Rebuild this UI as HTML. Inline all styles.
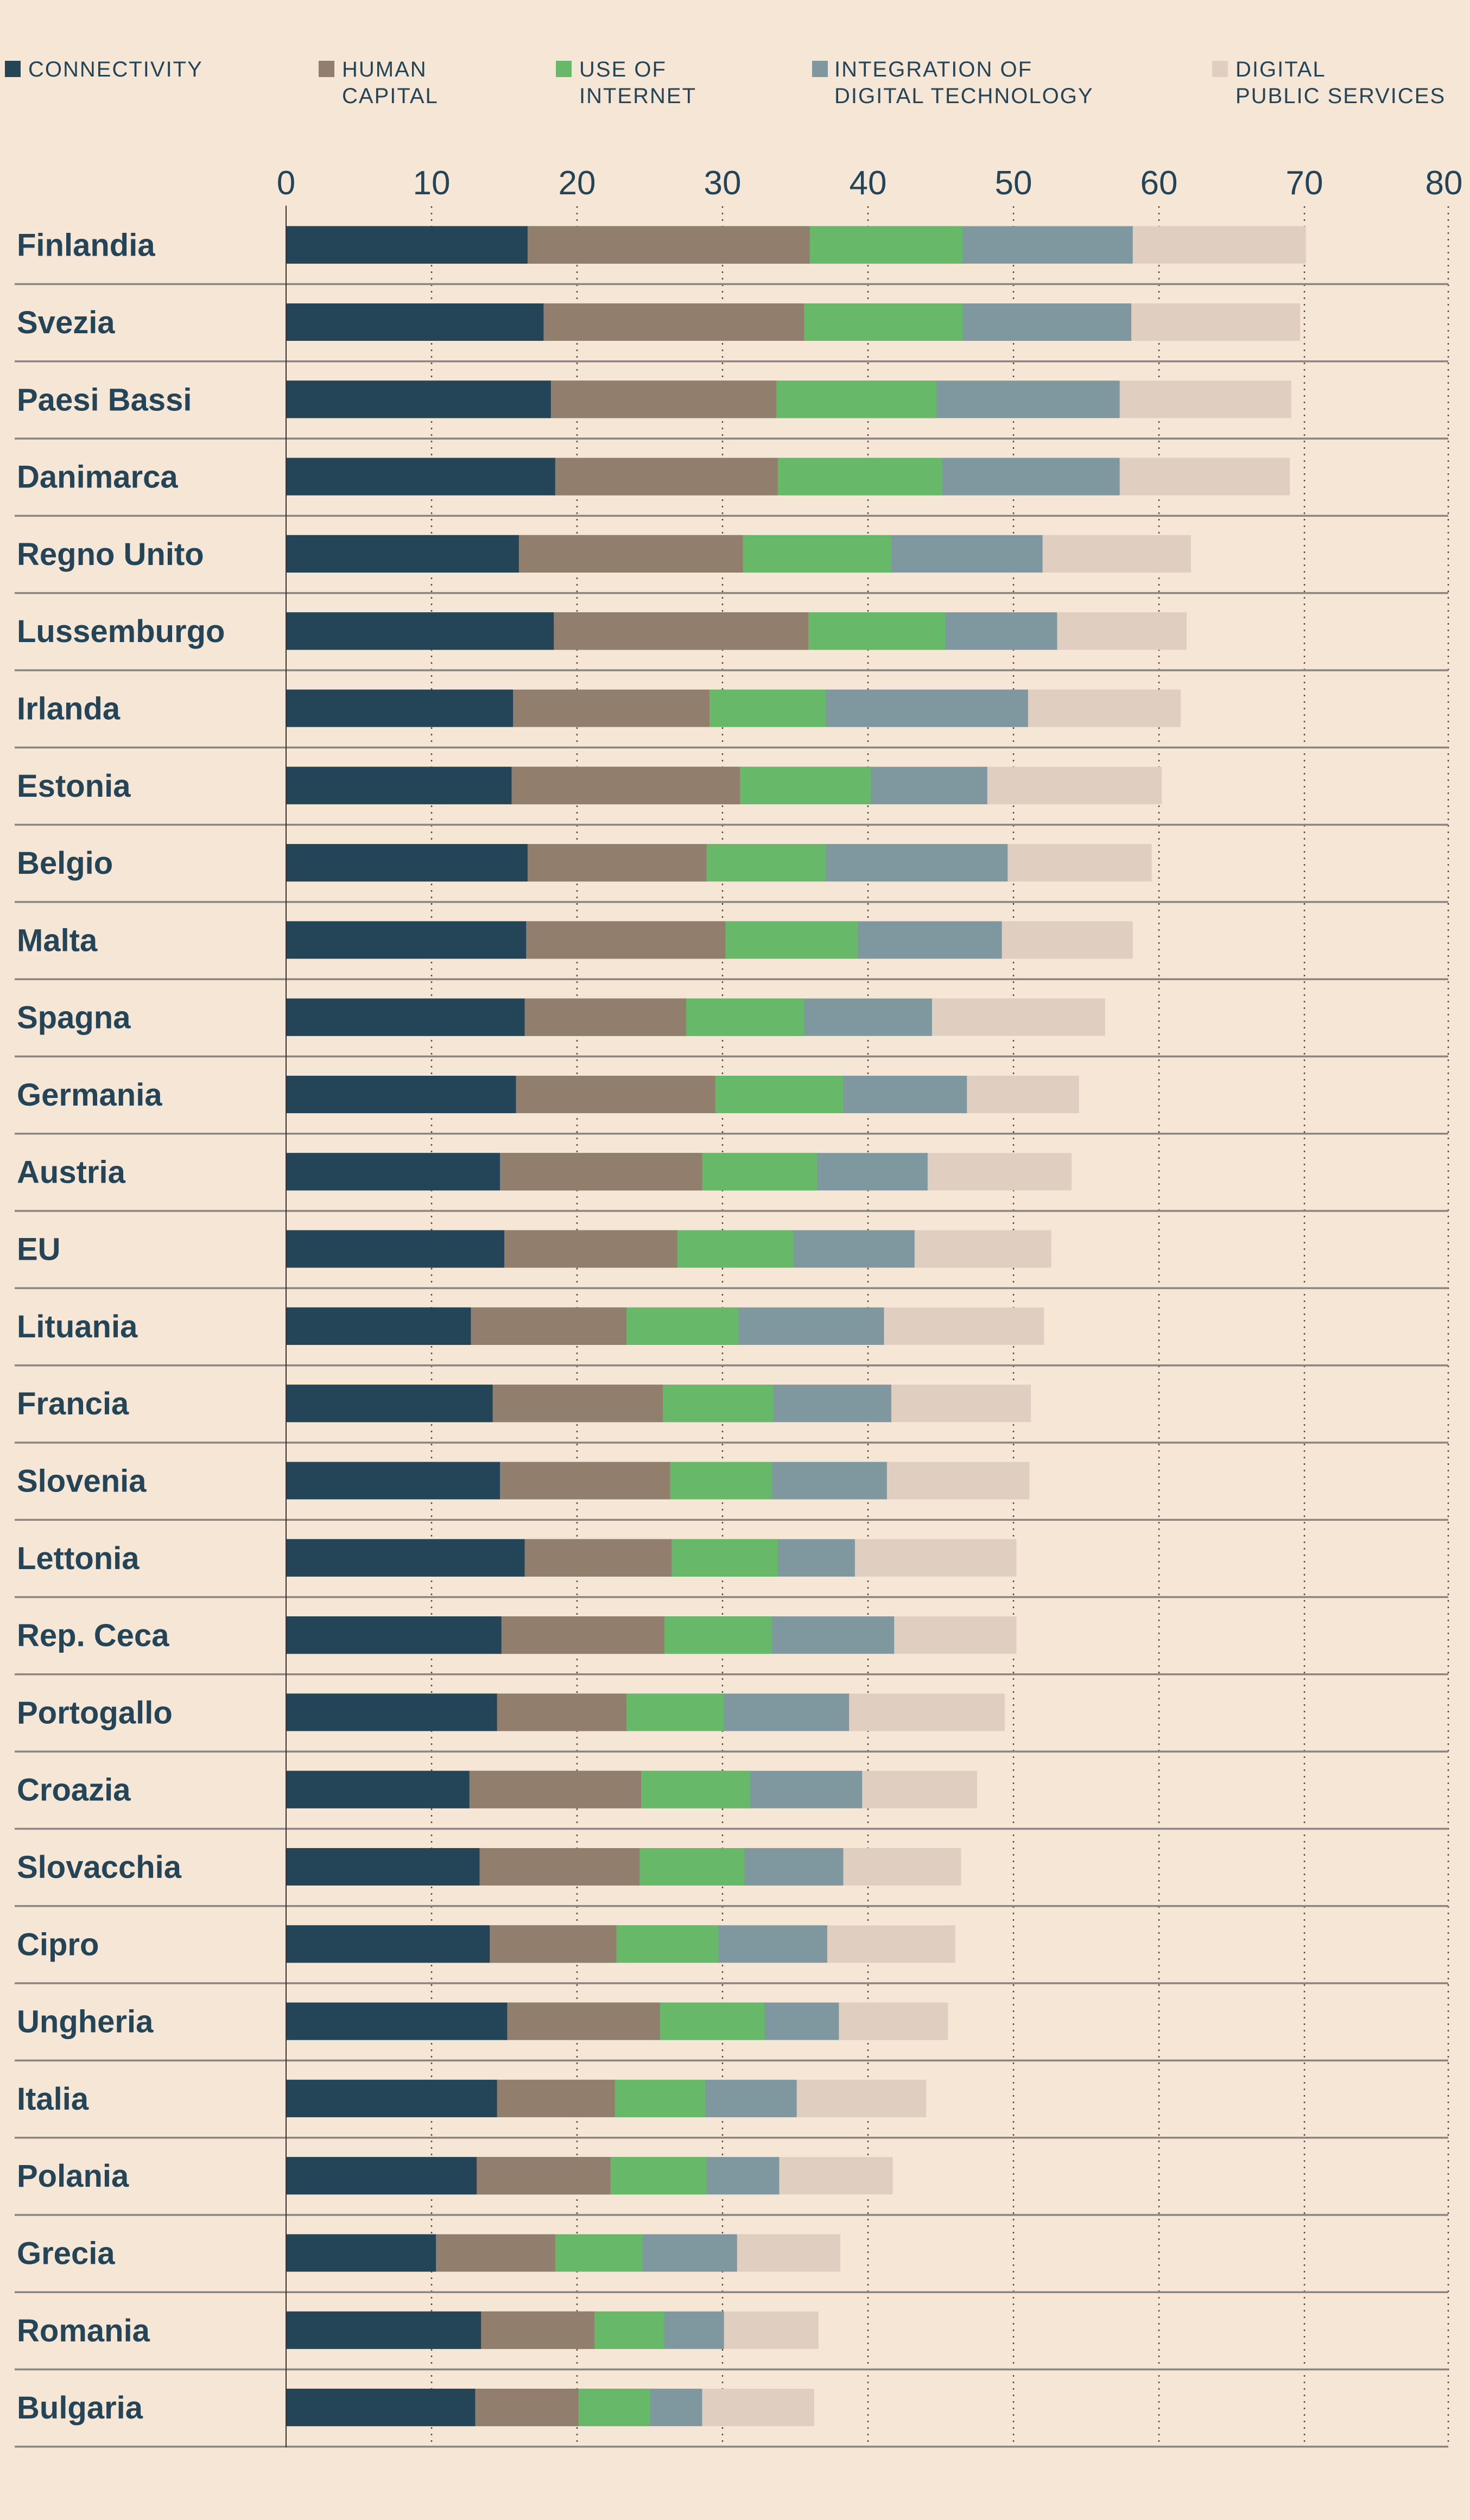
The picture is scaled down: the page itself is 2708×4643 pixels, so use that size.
<!DOCTYPE html>
<html><head><meta charset="utf-8">
<style>
html,body{margin:0;padding:0;background:#f5e6d6;}
svg{display:block;}
text{font-family:"Liberation Sans",sans-serif;fill:#244457;}
</style></head>
<body>
<svg width="2708" height="4643" viewBox="0 0 2708 4643" xmlns="http://www.w3.org/2000/svg">
<rect width="2708" height="4643" fill="#f5e6d6"/>
<!-- legend -->
<g font-size="40" letter-spacing="2">
<rect x="9" y="112" width="29" height="30" fill="#244457"/>
<text x="52" y="141">CONNECTIVITY</text>
<rect x="587" y="112" width="29" height="30" fill="#917e6d"/>
<text x="630" y="141">HUMAN</text><text x="630" y="190">CAPITAL</text>
<rect x="1024" y="112" width="29" height="30" fill="#67b868"/>
<text x="1067" y="141">USE OF</text><text x="1067" y="190">INTERNET</text>
<rect x="1496" y="112" width="29" height="30" fill="#7f979e"/>
<text x="1537" y="141">INTEGRATION OF</text><text x="1537" y="190">DIGITAL TECHNOLOGY</text>
<rect x="2233" y="112" width="29" height="30" fill="#e0cfc0"/>
<text x="2276" y="141">DIGITAL</text><text x="2276" y="190">PUBLIC SERVICES</text>
</g>
<!-- tick labels -->
<g font-size="62" text-anchor="middle">
<text x="527" y="358">0</text><text x="795" y="358">10</text><text x="1063" y="358">20</text>
<text x="1331" y="358">30</text><text x="1599" y="358">40</text><text x="1867" y="358">50</text>
<text x="2135" y="358">60</text><text x="2403" y="358">70</text><text x="2660" y="358">80</text>
</g>
<!-- gridlines -->
<g stroke="#5a4a44" stroke-width="2.5" stroke-dasharray="3,9">
<line x1="795" y1="380" x2="795" y2="4508"/><line x1="1063" y1="380" x2="1063" y2="4508"/>
<line x1="1331" y1="380" x2="1331" y2="4508"/><line x1="1599" y1="380" x2="1599" y2="4508"/>
<line x1="1867" y1="380" x2="1867" y2="4508"/><line x1="2135" y1="380" x2="2135" y2="4508"/>
<line x1="2403" y1="380" x2="2403" y2="4508"/><line x1="2668" y1="380" x2="2668" y2="4508"/>
</g>
<defs>
<g id="sep"><rect x="27" y="141" width="2641" height="3.5" fill="#8a8580"/></g>
</defs>
<g font-size="58" font-weight="bold">
<!-- rows -->
<g transform="translate(0,380.7)"><text x="31" y="91">Finlandia</text><use href="#sep"/><g transform="translate(527,36) scale(26.8,1)"><rect width="70.1" height="69" fill="#e0cfc0"/><rect width="58.2" height="69" fill="#7f979e"/><rect width="46.5" height="69" fill="#67b868"/><rect width="36.0" height="69" fill="#917e6d"/><rect width="16.6" height="69" fill="#244457"/></g></g>
<g transform="translate(0,523.0)"><text x="31" y="91">Svezia</text><use href="#sep"/><g transform="translate(527,36) scale(26.8,1)"><rect width="69.7" height="69" fill="#e0cfc0"/><rect width="58.1" height="69" fill="#7f979e"/><rect width="46.5" height="69" fill="#67b868"/><rect width="35.6" height="69" fill="#917e6d"/><rect width="17.7" height="69" fill="#244457"/></g></g>
<g transform="translate(0,665.3)"><text x="31" y="91">Paesi Bassi</text><use href="#sep"/><g transform="translate(527,36) scale(26.8,1)"><rect width="69.1" height="69" fill="#e0cfc0"/><rect width="57.3" height="69" fill="#7f979e"/><rect width="44.7" height="69" fill="#67b868"/><rect width="33.7" height="69" fill="#917e6d"/><rect width="18.2" height="69" fill="#244457"/></g></g>
<g transform="translate(0,807.6)"><text x="31" y="91">Danimarca</text><use href="#sep"/><g transform="translate(527,36) scale(26.8,1)"><rect width="69.0" height="69" fill="#e0cfc0"/><rect width="57.3" height="69" fill="#7f979e"/><rect width="45.1" height="69" fill="#67b868"/><rect width="33.8" height="69" fill="#917e6d"/><rect width="18.5" height="69" fill="#244457"/></g></g>
<g transform="translate(0,949.9)"><text x="31" y="91">Regno Unito</text><use href="#sep"/><g transform="translate(527,36) scale(26.8,1)"><rect width="62.2" height="69" fill="#e0cfc0"/><rect width="52.0" height="69" fill="#7f979e"/><rect width="41.6" height="69" fill="#67b868"/><rect width="31.4" height="69" fill="#917e6d"/><rect width="16.0" height="69" fill="#244457"/></g></g>
<g transform="translate(0,1092.2)"><text x="31" y="91">Lussemburgo</text><use href="#sep"/><g transform="translate(527,36) scale(26.8,1)"><rect width="61.9" height="69" fill="#e0cfc0"/><rect width="53.0" height="69" fill="#7f979e"/><rect width="45.3" height="69" fill="#67b868"/><rect width="35.9" height="69" fill="#917e6d"/><rect width="18.4" height="69" fill="#244457"/></g></g>
<g transform="translate(0,1234.5)"><text x="31" y="91">Irlanda</text><use href="#sep"/><g transform="translate(527,36) scale(26.8,1)"><rect width="61.5" height="69" fill="#e0cfc0"/><rect width="51.0" height="69" fill="#7f979e"/><rect width="37.1" height="69" fill="#67b868"/><rect width="29.1" height="69" fill="#917e6d"/><rect width="15.6" height="69" fill="#244457"/></g></g>
<g transform="translate(0,1376.8)"><text x="31" y="91">Estonia</text><use href="#sep"/><g transform="translate(527,36) scale(26.8,1)"><rect width="60.2" height="69" fill="#e0cfc0"/><rect width="48.2" height="69" fill="#7f979e"/><rect width="40.2" height="69" fill="#67b868"/><rect width="31.2" height="69" fill="#917e6d"/><rect width="15.5" height="69" fill="#244457"/></g></g>
<g transform="translate(0,1519.1)"><text x="31" y="91">Belgio</text><use href="#sep"/><g transform="translate(527,36) scale(26.8,1)"><rect width="59.5" height="69" fill="#e0cfc0"/><rect width="49.6" height="69" fill="#7f979e"/><rect width="37.1" height="69" fill="#67b868"/><rect width="28.9" height="69" fill="#917e6d"/><rect width="16.6" height="69" fill="#244457"/></g></g>
<g transform="translate(0,1661.4)"><text x="31" y="91">Malta</text><use href="#sep"/><g transform="translate(527,36) scale(26.8,1)"><rect width="58.2" height="69" fill="#e0cfc0"/><rect width="49.2" height="69" fill="#7f979e"/><rect width="39.3" height="69" fill="#67b868"/><rect width="30.2" height="69" fill="#917e6d"/><rect width="16.5" height="69" fill="#244457"/></g></g>
<g transform="translate(0,1803.7)"><text x="31" y="91">Spagna</text><use href="#sep"/><g transform="translate(527,36) scale(26.8,1)"><rect width="56.3" height="69" fill="#e0cfc0"/><rect width="44.4" height="69" fill="#7f979e"/><rect width="35.6" height="69" fill="#67b868"/><rect width="27.5" height="69" fill="#917e6d"/><rect width="16.4" height="69" fill="#244457"/></g></g>
<g transform="translate(0,1946.0)"><text x="31" y="91">Germania</text><use href="#sep"/><g transform="translate(527,36) scale(26.8,1)"><rect width="54.5" height="69" fill="#e0cfc0"/><rect width="46.8" height="69" fill="#7f979e"/><rect width="38.3" height="69" fill="#67b868"/><rect width="29.5" height="69" fill="#917e6d"/><rect width="15.8" height="69" fill="#244457"/></g></g>
<g transform="translate(0,2088.3)"><text x="31" y="91">Austria</text><use href="#sep"/><g transform="translate(527,36) scale(26.8,1)"><rect width="54.0" height="69" fill="#e0cfc0"/><rect width="44.1" height="69" fill="#7f979e"/><rect width="36.5" height="69" fill="#67b868"/><rect width="28.6" height="69" fill="#917e6d"/><rect width="14.7" height="69" fill="#244457"/></g></g>
<g transform="translate(0,2230.6)"><text x="31" y="91">EU</text><use href="#sep"/><g transform="translate(527,36) scale(26.8,1)"><rect width="52.6" height="69" fill="#e0cfc0"/><rect width="43.2" height="69" fill="#7f979e"/><rect width="34.9" height="69" fill="#67b868"/><rect width="26.9" height="69" fill="#917e6d"/><rect width="15.0" height="69" fill="#244457"/></g></g>
<g transform="translate(0,2372.9)"><text x="31" y="91">Lituania</text><use href="#sep"/><g transform="translate(527,36) scale(26.8,1)"><rect width="52.1" height="69" fill="#e0cfc0"/><rect width="41.1" height="69" fill="#7f979e"/><rect width="31.1" height="69" fill="#67b868"/><rect width="23.4" height="69" fill="#917e6d"/><rect width="12.7" height="69" fill="#244457"/></g></g>
<g transform="translate(0,2515.2)"><text x="31" y="91">Francia</text><use href="#sep"/><g transform="translate(527,36) scale(26.8,1)"><rect width="51.2" height="69" fill="#e0cfc0"/><rect width="41.6" height="69" fill="#7f979e"/><rect width="33.5" height="69" fill="#67b868"/><rect width="25.9" height="69" fill="#917e6d"/><rect width="14.2" height="69" fill="#244457"/></g></g>
<g transform="translate(0,2657.5)"><text x="31" y="91">Slovenia</text><use href="#sep"/><g transform="translate(527,36) scale(26.8,1)"><rect width="51.1" height="69" fill="#e0cfc0"/><rect width="41.3" height="69" fill="#7f979e"/><rect width="33.4" height="69" fill="#67b868"/><rect width="26.4" height="69" fill="#917e6d"/><rect width="14.7" height="69" fill="#244457"/></g></g>
<g transform="translate(0,2799.8)"><text x="31" y="91">Lettonia</text><use href="#sep"/><g transform="translate(527,36) scale(26.8,1)"><rect width="50.2" height="69" fill="#e0cfc0"/><rect width="39.1" height="69" fill="#7f979e"/><rect width="33.8" height="69" fill="#67b868"/><rect width="26.5" height="69" fill="#917e6d"/><rect width="16.4" height="69" fill="#244457"/></g></g>
<g transform="translate(0,2942.1)"><text x="31" y="91">Rep. Ceca</text><use href="#sep"/><g transform="translate(527,36) scale(26.8,1)"><rect width="50.2" height="69" fill="#e0cfc0"/><rect width="41.8" height="69" fill="#7f979e"/><rect width="33.4" height="69" fill="#67b868"/><rect width="26.0" height="69" fill="#917e6d"/><rect width="14.8" height="69" fill="#244457"/></g></g>
<g transform="translate(0,3084.4)"><text x="31" y="91">Portogallo</text><use href="#sep"/><g transform="translate(527,36) scale(26.8,1)"><rect width="49.4" height="69" fill="#e0cfc0"/><rect width="38.7" height="69" fill="#7f979e"/><rect width="30.1" height="69" fill="#67b868"/><rect width="23.4" height="69" fill="#917e6d"/><rect width="14.5" height="69" fill="#244457"/></g></g>
<g transform="translate(0,3226.7)"><text x="31" y="91">Croazia</text><use href="#sep"/><g transform="translate(527,36) scale(26.8,1)"><rect width="47.5" height="69" fill="#e0cfc0"/><rect width="39.6" height="69" fill="#7f979e"/><rect width="31.9" height="69" fill="#67b868"/><rect width="24.4" height="69" fill="#917e6d"/><rect width="12.6" height="69" fill="#244457"/></g></g>
<g transform="translate(0,3369.0)"><text x="31" y="91">Slovacchia</text><use href="#sep"/><g transform="translate(527,36) scale(26.8,1)"><rect width="46.4" height="69" fill="#e0cfc0"/><rect width="38.3" height="69" fill="#7f979e"/><rect width="31.5" height="69" fill="#67b868"/><rect width="24.3" height="69" fill="#917e6d"/><rect width="13.3" height="69" fill="#244457"/></g></g>
<g transform="translate(0,3511.3)"><text x="31" y="91">Cipro</text><use href="#sep"/><g transform="translate(527,36) scale(26.8,1)"><rect width="46.0" height="69" fill="#e0cfc0"/><rect width="37.2" height="69" fill="#7f979e"/><rect width="29.7" height="69" fill="#67b868"/><rect width="22.7" height="69" fill="#917e6d"/><rect width="14.0" height="69" fill="#244457"/></g></g>
<g transform="translate(0,3653.6)"><text x="31" y="91">Ungheria</text><use href="#sep"/><g transform="translate(527,36) scale(26.8,1)"><rect width="45.5" height="69" fill="#e0cfc0"/><rect width="38.0" height="69" fill="#7f979e"/><rect width="32.9" height="69" fill="#67b868"/><rect width="25.7" height="69" fill="#917e6d"/><rect width="15.2" height="69" fill="#244457"/></g></g>
<g transform="translate(0,3795.9)"><text x="31" y="91">Italia</text><use href="#sep"/><g transform="translate(527,36) scale(26.8,1)"><rect width="44.0" height="69" fill="#e0cfc0"/><rect width="35.1" height="69" fill="#7f979e"/><rect width="28.8" height="69" fill="#67b868"/><rect width="22.6" height="69" fill="#917e6d"/><rect width="14.5" height="69" fill="#244457"/></g></g>
<g transform="translate(0,3938.2)"><text x="31" y="91">Polania</text><use href="#sep"/><g transform="translate(527,36) scale(26.8,1)"><rect width="41.7" height="69" fill="#e0cfc0"/><rect width="33.9" height="69" fill="#7f979e"/><rect width="28.9" height="69" fill="#67b868"/><rect width="22.3" height="69" fill="#917e6d"/><rect width="13.1" height="69" fill="#244457"/></g></g>
<g transform="translate(0,4080.5)"><text x="31" y="91">Grecia</text><use href="#sep"/><g transform="translate(527,36) scale(26.8,1)"><rect width="38.1" height="69" fill="#e0cfc0"/><rect width="31.0" height="69" fill="#7f979e"/><rect width="24.5" height="69" fill="#67b868"/><rect width="18.5" height="69" fill="#917e6d"/><rect width="10.3" height="69" fill="#244457"/></g></g>
<g transform="translate(0,4222.8)"><text x="31" y="91">Romania</text><use href="#sep"/><g transform="translate(527,36) scale(26.8,1)"><rect width="36.6" height="69" fill="#e0cfc0"/><rect width="30.1" height="69" fill="#7f979e"/><rect width="26.0" height="69" fill="#67b868"/><rect width="21.2" height="69" fill="#917e6d"/><rect width="13.4" height="69" fill="#244457"/></g></g>
<g transform="translate(0,4365.1)"><text x="31" y="91">Bulgaria</text><use href="#sep"/><g transform="translate(527,36) scale(26.8,1)"><rect width="36.3" height="69" fill="#e0cfc0"/><rect width="28.6" height="69" fill="#7f979e"/><rect width="25.0" height="69" fill="#67b868"/><rect width="20.1" height="69" fill="#917e6d"/><rect width="13.0" height="69" fill="#244457"/></g></g>
</g>
<!-- axis line -->
<rect x="526" y="379" width="2" height="4130" fill="#3a3030"/>
</svg>
</body></html>
